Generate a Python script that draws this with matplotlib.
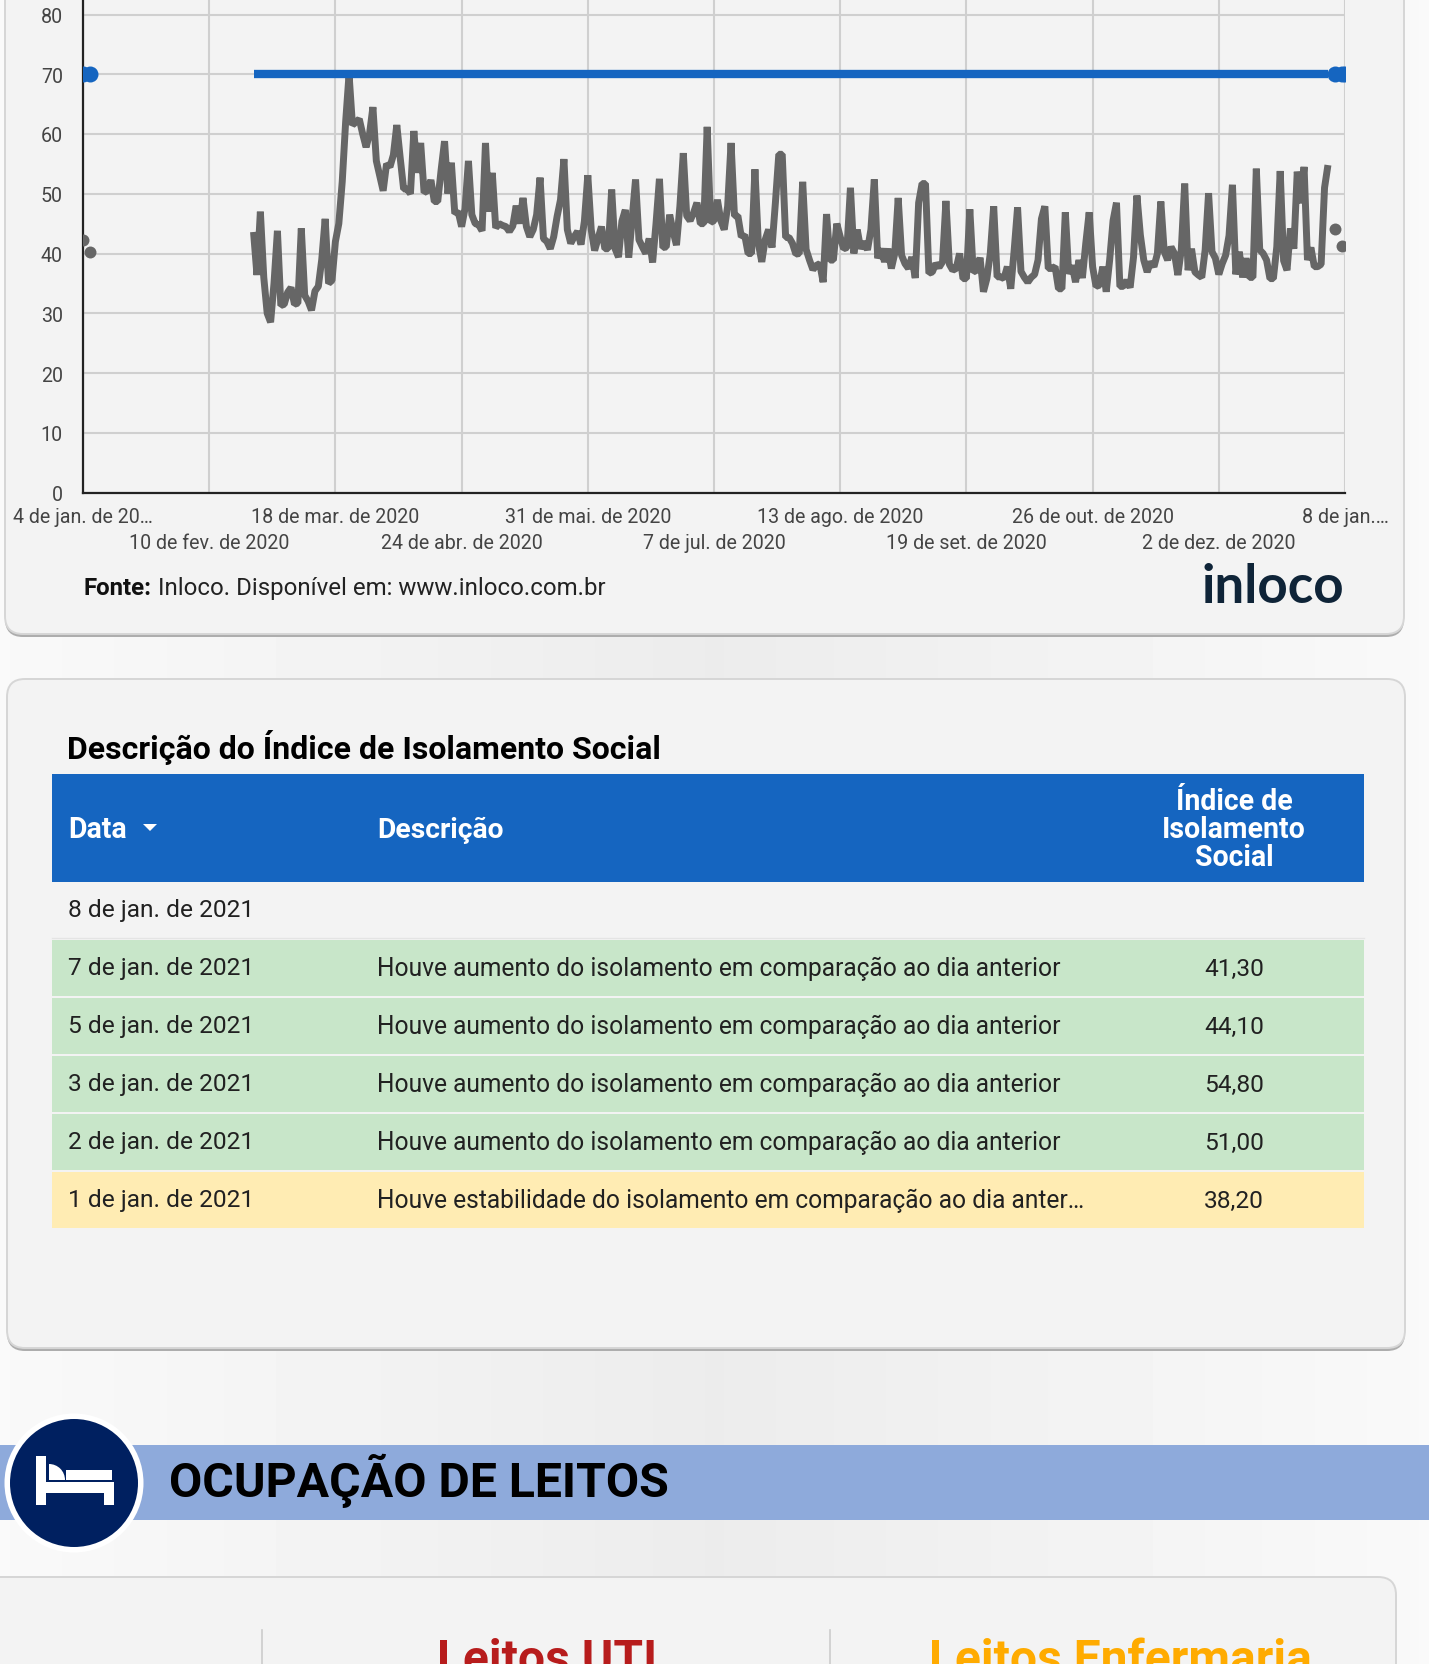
import numpy as np
import pandas as pd
import matplotlib
matplotlib.use('Agg')
import matplotlib.pyplot as plt
from matplotlib.patches import FancyBboxPatch, Rectangle, Circle, Polygon, Wedge

plt.rcParams['font.family'] = ['Roboto', 'DejaVu Sans']

W, H = 1429, 1665
Y0 = 493.5

# indice diario, uma linha por semana (comeca no domingo 23/02/2020)
isolamento = [
    43.6, 36.4, 47.0, 36.0, 30.0, 28.5, 35.0,
    43.8, 31.3, 31.5, 33.5, 34.3, 31.5, 31.7,
    44.2, 33.0, 32.0, 30.5, 33.7, 34.5, 39.0,
    45.8, 35.0, 35.5, 42.0, 45.0, 52.0, 62.0,
    70.0, 61.5, 62.0, 62.5, 60.0, 57.8, 60.0,
    64.5, 55.5, 53.0, 50.5, 55.0, 54.5, 56.5,
    61.5, 56.0, 50.8, 50.8, 50.0, 60.5, 53.5,
    58.5, 50.2, 50.5, 52.3, 48.7, 48.7, 54.0,
    58.8, 50.0, 55.2, 46.7, 47.0, 44.5, 47.5,
    55.5, 46.5, 45.0, 44.8, 43.8, 58.5, 47.0,
    53.5, 44.3, 45.0, 44.7, 44.5, 43.7, 44.6,
    48.0, 45.0, 49.3, 44.5, 42.8, 44.0, 46.5,
    52.7, 42.5, 42.0, 40.8, 42.8, 46.2, 49.0,
    55.8, 44.0, 41.7, 42.8, 43.7, 41.5, 45.4,
    53.1, 44.0, 40.5, 42.5, 44.5, 40.8, 40.8,
    50.7, 40.8, 39.4, 45.4, 47.3, 39.3, 45.9,
    52.4, 42.3, 41.1, 40.0, 42.5, 38.5, 45.0,
    52.5, 41.0, 41.1, 46.5, 43.7, 41.4, 47.9,
    56.8, 46.3, 45.5, 46.8, 48.5, 45.0, 45.0,
    61.2, 45.2, 45.5, 49.0, 45.5, 44.0, 47.9,
    58.5, 46.3, 46.3, 42.8, 43.1, 40.0, 40.0,
    54.1, 41.7, 38.6, 42.3, 44.0, 41.0, 48.5,
    56.6, 56.6, 42.7, 42.7, 41.7, 39.9, 40.0,
    52.0, 40.7, 38.9, 37.3, 38.0, 38.3, 35.2,
    46.6, 38.9, 38.9, 45.0, 42.8, 40.8, 41.0,
    51.0, 40.0, 44.0, 40.8, 42.0, 40.6, 44.0,
    52.4, 39.2, 40.8, 38.6, 40.8, 37.5, 40.0,
    49.3, 39.7, 38.3, 37.5, 39.4, 35.9, 48.5,
    51.7, 51.7, 36.7, 36.9, 38.3, 37.7, 38.6,
    48.8, 38.2, 37.2, 37.5, 40.0, 35.8, 35.8,
    47.4, 36.9, 37.2, 39.3, 33.6, 35.8, 40.0,
    47.9, 36.1, 36.1, 35.8, 37.8, 34.1, 40.5,
    47.7, 37.0, 36.0, 35.2, 36.0, 36.5, 38.9,
    45.8, 47.9, 37.5, 37.5, 37.8, 34.1, 34.1,
    46.9, 36.6, 38.0, 35.2, 38.9, 35.9, 41.7,
    46.9, 37.8, 34.5, 34.7, 37.8, 33.6, 38.9,
    45.5, 48.5, 34.5, 34.5, 35.5, 34.3, 39.4,
    49.7, 43.1, 38.9, 36.9, 38.6, 37.8, 40.0,
    48.7, 40.3, 38.9, 41.1, 40.0, 36.4, 40.6,
    51.7, 37.2, 40.8, 36.9, 36.4, 36.0, 40.6,
    50.1, 40.3, 39.2, 36.5, 38.3, 39.7, 43.0,
    51.5, 36.5, 40.3, 36.0, 39.2, 36.0, 36.0,
    54.2, 40.6, 40.0, 38.9, 35.8, 35.8, 41.1,
    53.8, 38.8, 37.2, 44.2, 40.8, 53.7, 48.4,
    54.5, 38.9, 41.0, 37.8, 37.8, 38.2, 51.0,
    54.8,
]
dias_soltos = ['2020-01-04', '2020-01-06', '2021-01-05', '2021-01-07']
valores_soltos = [42.3, 40.3, 44.1, 41.3]
dias_meta_soltos = ['2020-01-04', '2020-01-06', '2021-01-05', '2021-01-07', '2021-01-08']
meta = 70

tick_datas = ['2020-01-04', '2020-02-10', '2020-03-18', '2020-04-24', '2020-05-31', '2020-07-07',
              '2020-08-13', '2020-09-19', '2020-10-26', '2020-12-02', '2021-01-08']
tick_rotulos = ['4 de jan. de 20…', '10 de fev. de 2020', '18 de mar. de 2020', '24 de abr. de 2020',
                '31 de mai. de 2020', '7 de jul. de 2020', '13 de ago. de 2020', '19 de set. de 2020',
                '26 de out. de 2020', '2 de dez. de 2020', '8 de jan.…']
y_ticks = [0, 10, 20, 30, 40, 50, 60, 70, 80]

tabela_datas = ['8 de jan. de 2021', '7 de jan. de 2021', '5 de jan. de 2021',
                '3 de jan. de 2021', '2 de jan. de 2021', '1 de jan. de 2021']
tabela_desc = ['',
               'Houve aumento do isolamento em comparação ao dia anterior',
               'Houve aumento do isolamento em comparação ao dia anterior',
               'Houve aumento do isolamento em comparação ao dia anterior',
               'Houve aumento do isolamento em comparação ao dia anterior',
               'Houve estabilidade do isolamento em comparação ao dia anter…']
tabela_indice = ['', '41,30', '44,10', '54,80', '51,00', '38,20']
tabela_cores = [None, '#c8e6c9', '#c8e6c9', '#c8e6c9', '#c8e6c9', '#ffecb3']


def px(s):
    return s * 0.72


fig = plt.figure(figsize=(W / 100, H / 100), dpi=100)

# fundo da pagina e cartoes, tudo em pixels
bg = fig.add_axes([0, 0, 1, 1])
bg.set_xlim(0, W)
bg.set_ylim(H, 0)
bg.axis('off')
xs = np.linspace(-1, 1, 300)
bg.imshow((0.925 + 0.052 * np.abs(xs))[None, :], cmap='gray', vmin=0, vmax=1,
          extent=[0, W, H, 0], aspect='auto', zorder=0)


def cartao(x0, y0, x1, y1):
    bg.add_patch(FancyBboxPatch((x0, y0 + 3), x1 - x0, y1 - y0, boxstyle='round,pad=0,rounding_size=18',
                                fc='#adadad', ec='none', zorder=1))
    bg.add_patch(FancyBboxPatch((x0, y0), x1 - x0, y1 - y0, boxstyle='round,pad=0,rounding_size=18',
                                fc='#f3f3f3', ec='#d6d6d6', lw=1.4, zorder=2))


cartao(5, -40, 1404, 635)
cartao(7, 680, 1405, 1349)
cartao(-30, 1578, 1396, 1720)

# grafico
ax = fig.add_axes([83 / W, 1 - Y0 / H, (1345 - 83) / W, Y0 / H])
ax.patch.set_alpha(0)
datas = pd.date_range('2020-02-23', periods=len(isolamento), freq='D')
ax.plot(datas, isolamento, color='#666666', lw=5, solid_joinstyle='bevel',
        solid_capstyle='butt', zorder=3)
ax.plot(datas, [meta] * len(datas), color='#1565c0', lw=6, solid_capstyle='butt', zorder=4)
ax.plot(pd.to_datetime(dias_soltos), valores_soltos, 'o', color='#666666', ms=8.6, mew=0, zorder=3)
ax.plot(pd.to_datetime(dias_meta_soltos), [meta] * len(dias_meta_soltos), 'o', color='#1565c0',
        ms=11.5, mew=0, zorder=4)

ax.set_xlim(pd.Timestamp('2020-01-04'), pd.Timestamp('2021-01-08'))
ax.set_ylim(0, Y0 / 5.975)
ax.set_yticks(y_ticks)
ax.set_xticks(pd.to_datetime(tick_datas))
ax.set_xticklabels(tick_rotulos)
ax.grid(True, color='#cfcfcf', lw=1.5, zorder=1)
ax.set_axisbelow(True)
ax.tick_params(axis='both', length=0, labelsize=px(19.6), labelcolor='#444444')
ax.tick_params(axis='y', pad=14.5)
for i, t in enumerate(ax.xaxis.get_major_ticks()):
    t.set_pad(10.5 if i % 2 == 0 else 29)
for s in ['top', 'right']:
    ax.spines[s].set_visible(False)
for s in ['left', 'bottom']:
    ax.spines[s].set_color('#222222')
    ax.spines[s].set_linewidth(1.6)

# fonte e logo
fig.canvas.draw()
t1 = bg.text(84, 589, 'Fonte:', fontsize=px(24), fontweight='bold', color='#111111', va='center', zorder=5)
x_fim = t1.get_window_extent().x1
bg.text(x_fim + 6, 589, 'Inloco. Disponível em: www.inloco.com.br', fontsize=px(24), color='#222222',
        va='center', zorder=5)
bg.text(1344, 603, 'inloco', fontsize=px(53), fontweight='bold', family='Lato', color='#0f2438',
        ha='right', va='baseline', zorder=5)

# tabela
bg.text(67, 748, 'Descrição do Índice de Isolamento Social', fontsize=px(32), fontweight='bold',
        color='black', va='center', zorder=5)
bg.add_patch(Rectangle((52, 775), 1312, 108, fc='#1565c0', ec='none', zorder=3))
bg.text(68, 830, 'Data', fontsize=px(28.5), fontweight='bold', color='white', va='center', zorder=5)
bg.add_patch(Polygon([(143, 825), (157, 825), (150, 832)], fc='white', ec='none', zorder=5))
bg.text(377, 830, 'Descrição', fontsize=px(28.2), fontweight='bold', color='white', va='center', zorder=5)
for yy, linha in zip([802, 830, 858], ['Índice de', 'Isolamento', 'Social']):
    bg.text(1234, yy, linha, fontsize=px(28.5), fontweight='bold', color='white', ha='center', va='center', zorder=5)

for i in range(len(tabela_datas)):
    yc = 911 + i * 58
    if tabela_cores[i]:
        bg.add_patch(Rectangle((52, yc - 28), 1312, 56, fc=tabela_cores[i], ec='none', zorder=3))
    else:
        bg.plot([52, 1364], [yc + 28, yc + 28], color='#e4e4e4', lw=1, zorder=3)
    bg.text(68, yc, tabela_datas[i], fontsize=px(24.5), color='#212121', va='center', zorder=5)
    bg.text(377, yc, tabela_desc[i], fontsize=px(24.6), color='#212121', va='center', zorder=5)
    bg.text(1234, yc, tabela_indice[i], fontsize=px(24.5), color='#212121', ha='center', va='center', zorder=5)

# faixa de ocupacao de leitos
bg.add_patch(Rectangle((0, 1446), W, 75, fc='#8eaadb', ec='none', zorder=3))
bg.add_patch(Circle((74, 1484), 69.5, fc='white', ec='none', zorder=4))
bg.add_patch(Circle((74, 1484), 64, fc='#002060', ec='none', zorder=4))
for x0, y0, w, h in [(36, 1457, 10, 49), (46, 1483, 68, 11), (104, 1494, 10, 12), (66, 1471, 46, 10)]:
    bg.add_patch(Rectangle((x0, y0), w, h, fc='white', ec='none', zorder=5))
bg.add_patch(Wedge((49, 1481), 16, 270, 360, fc='white', ec='none', zorder=5))
bg.text(169, 1481, 'OCUPAÇÃO DE LEITOS', fontsize=px(48.2), fontweight='bold', color='black',
        va='center', zorder=5)

# cartao de baixo, cortado pela borda da figura
for xv in [262, 830]:
    bg.plot([xv, xv], [1631, H], color='#cccccc', lw=1.2, zorder=3)
bg.text(547, 1674, 'Leitos UTI', fontsize=px(48), fontweight='bold', color='#b71c1c', ha='center',
        va='baseline', zorder=5)
bg.text(1120, 1674, 'Leitos Enfermaria', fontsize=px(48), fontweight='bold', color='#ffab00', ha='center',
        va='baseline', zorder=5)

fig.savefig('out.png', dpi=100)
